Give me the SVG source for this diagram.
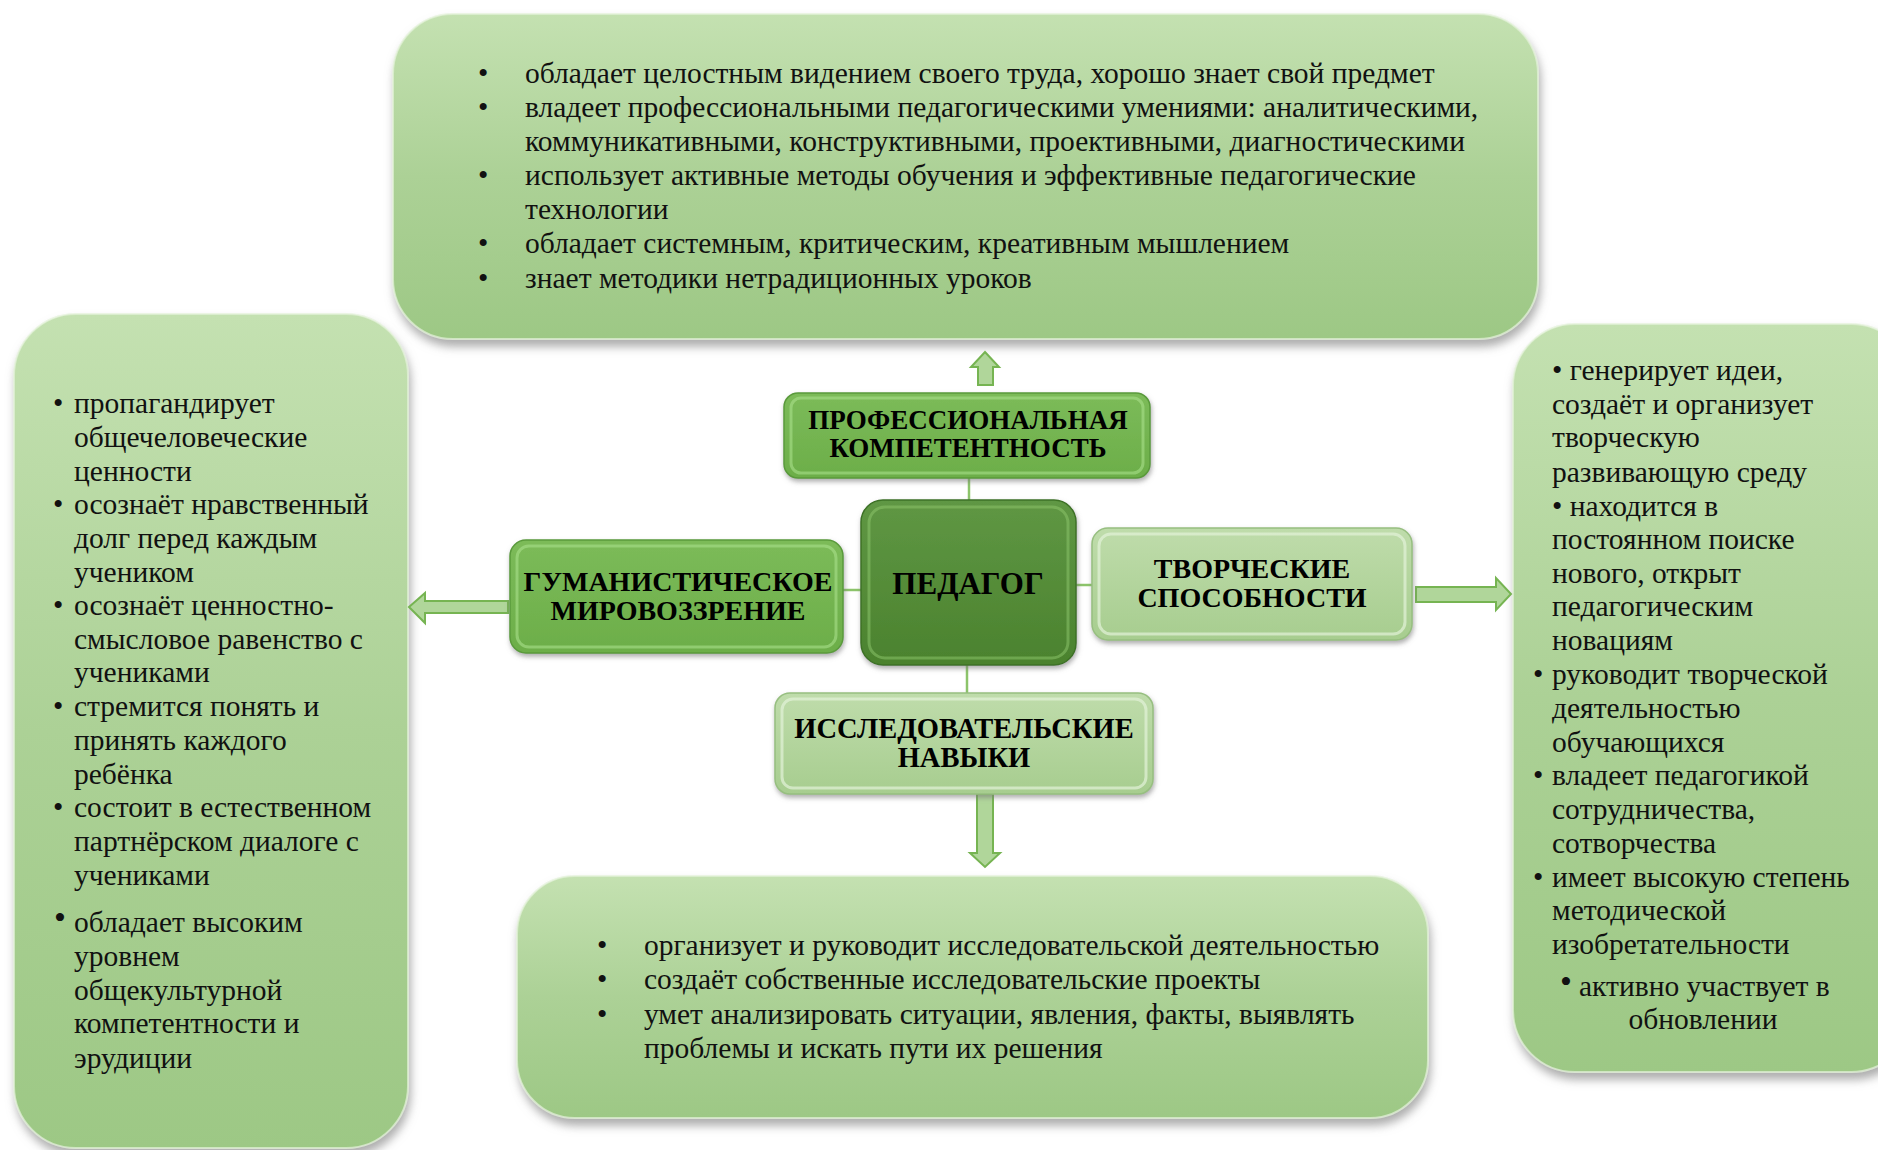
<svg xmlns="http://www.w3.org/2000/svg" width="1878" height="1150" viewBox="0 0 1878 1150">
<defs>
<linearGradient id="gBig" x1="0" y1="0" x2="0" y2="1">
<stop offset="0" stop-color="#c4e1b1"/>
<stop offset="0.5" stop-color="#acd196"/>
<stop offset="1" stop-color="#9dc885"/>
</linearGradient>
<linearGradient id="gDark" x1="0" y1="0" x2="0" y2="1">
<stop offset="0" stop-color="#5f9744"/>
<stop offset="1" stop-color="#4b822e"/>
</linearGradient>
<linearGradient id="gMid" x1="0" y1="0" x2="0" y2="1">
<stop offset="0" stop-color="#7cbb59"/>
<stop offset="1" stop-color="#6cae49"/>
</linearGradient>
<linearGradient id="gLight" x1="0" y1="0" x2="0" y2="1">
<stop offset="0" stop-color="#bfdcab"/>
<stop offset="1" stop-color="#a7cd8f"/>
</linearGradient>
<filter id="shBig" x="-10%" y="-10%" width="120%" height="125%">
<feGaussianBlur in="SourceAlpha" stdDeviation="5"/>
<feOffset dx="2" dy="7" result="b"/>
<feFlood flood-color="#8a8a8a" flood-opacity="0.7"/>
<feComposite in2="b" operator="in"/>
<feMerge><feMergeNode/><feMergeNode in="SourceGraphic"/></feMerge>
</filter>
<filter id="shNode" x="-10%" y="-10%" width="120%" height="130%">
<feGaussianBlur in="SourceAlpha" stdDeviation="2.5"/>
<feOffset dx="1" dy="3" result="b"/>
<feFlood flood-color="#777" flood-opacity="0.6"/>
<feComposite in2="b" operator="in"/>
<feMerge><feMergeNode/><feMergeNode in="SourceGraphic"/></feMerge>
</filter>
</defs>
<style>
.big{fill:url(#gBig);stroke:#e4f2da;stroke-width:2;stroke-opacity:0.7;filter:url(#shBig)}
.t{font-family:"Liberation Serif","Times New Roman",serif;font-size:29.5px;fill:#111}
.n{font-family:"Liberation Serif","Times New Roman",serif;font-size:28px;font-weight:bold;fill:#000;text-anchor:middle}
.dark{fill:url(#gDark);stroke:#3e7226;stroke-width:1.5;filter:url(#shNode)}
.mid{fill:url(#gMid);stroke:#5a9a3b;stroke-width:1.5;filter:url(#shNode)}
.light{fill:url(#gLight);stroke:#97bf80;stroke-width:1.5;filter:url(#shNode)}
.rimD{fill:none;stroke:#8bc36a;stroke-width:3;stroke-opacity:0.55}
.rimM{fill:none;stroke:#a8e08a;stroke-width:3;stroke-opacity:0.6}
.rimL{fill:none;stroke:#e3f2d8;stroke-width:3;stroke-opacity:0.7}
.con{stroke:#8cc46a;stroke-width:2.5;fill:none}
.arr{fill:#b0d69a;stroke:#76b452;stroke-width:2}
</style>

<g id="box-top">
<rect class="big" x="393" y="14" width="1145" height="325" rx="60"/>
<g class="t">
<text x="478" y="83">•</text><text x="525" y="83">обладает целостным видением своего труда, хорошо знает свой предмет</text>
<text x="478" y="117">•</text><text x="525" y="117">владеет профессиональными педагогическими умениями: аналитическими,</text>
<text x="525" y="151">коммуникативными, конструктивными, проективными, диагностическими</text>
<text x="478" y="185">•</text><text x="525" y="185">использует активные методы обучения и эффективные педагогические</text>
<text x="525" y="219">технологии</text>
<text x="478" y="253">•</text><text x="525" y="253">обладает системным, критическим, креативным мышлением</text>
<text x="478" y="288">•</text><text x="525" y="288">знает методики нетрадиционных уроков</text>
</g>
</g>

<g id="box-left">
<rect class="big" x="14" y="314" width="394" height="834" rx="62"/>
<g class="t">
<text x="53" y="413">•</text><text x="74" y="413">пропагандирует</text>
<text x="74" y="447">общечеловеческие</text>
<text x="74" y="481">ценности</text>
<text x="53" y="514">•</text><text x="74" y="514">осознаёт нравственный</text>
<text x="74" y="548">долг перед каждым</text>
<text x="74" y="582">учеником</text>
<text x="53" y="615">•</text><text x="74" y="615">осознаёт ценностно-</text>
<text x="74" y="649">смысловое равенство с</text>
<text x="74" y="682">учениками</text>
<text x="53" y="716">•</text><text x="74" y="716">стремится понять и</text>
<text x="74" y="750">принять каждого</text>
<text x="74" y="784">ребёнка</text>
<text x="53" y="817">•</text><text x="74" y="817">состоит в естественном</text>
<text x="74" y="851">партнёрском диалоге с</text>
<text x="74" y="885">учениками</text>
<text x="54" y="929" style="font-size:34px">•</text><text x="74" y="932">обладает высоким</text>
<text x="74" y="966">уровнем</text>
<text x="74" y="1000">общекультурной</text>
<text x="74" y="1033">компетентности и</text>
<text x="74" y="1068">эрудиции</text>
</g>
</g>

<g id="box-right">
<rect class="big" x="1513" y="324" width="400" height="748" rx="62"/>
<g class="t">
<text x="1552" y="380">• генерирует идеи,</text>
<text x="1552" y="414">создаёт и организует</text>
<text x="1552" y="447">творческую</text>
<text x="1552" y="482">развивающую среду</text>
<text x="1552" y="516">• находится в</text>
<text x="1552" y="549">постоянном поиске</text>
<text x="1552" y="583">нового, открыт</text>
<text x="1552" y="616">педагогическим</text>
<text x="1552" y="650">новациям</text>
<text x="1533" y="684">•</text><text x="1552" y="684">руководит творческой</text>
<text x="1552" y="718">деятельностью</text>
<text x="1552" y="752">обучающихся</text>
<text x="1533" y="785">•</text><text x="1552" y="785">владеет педагогикой</text>
<text x="1552" y="819">сотрудничества,</text>
<text x="1552" y="853">сотворчества</text>
<text x="1533" y="887">•</text><text x="1552" y="887">имеет высокую степень</text>
<text x="1552" y="920">методической</text>
<text x="1552" y="954">изобретательности</text>
<text x="1560" y="993" style="font-size:34px">•</text><text x="1579" y="996">активно участвует в</text>
<text x="1703" y="1029" text-anchor="middle">обновлении</text>
</g>
</g>

<g id="box-bottom">
<rect class="big" x="517" y="876" width="911" height="242" rx="58"/>
<g class="t">
<text x="597" y="955">•</text><text x="644" y="955">организует и руководит исследовательской деятельностью</text>
<text x="597" y="989">•</text><text x="644" y="989">создаёт собственные исследовательские проекты</text>
<text x="597" y="1024">•</text><text x="644" y="1024">умет анализировать ситуации, явления, факты, выявлять</text>
<text x="644" y="1058">проблемы и искать пути их решения</text>
</g>
</g>

<g id="connectors">
<line class="con" x1="969" y1="478" x2="969" y2="501"/>
<line class="con" x1="967" y1="664" x2="967" y2="694"/>
<line class="con" x1="843" y1="590" x2="862" y2="590"/>
<line class="con" x1="1075" y1="585" x2="1092" y2="585"/>
<polygon class="arr" points="985,352 999,367 993,367 993,385 978,385 978,367 971,367"/>
<polygon class="arr" points="977,794 993,794 993,853 1000,853 985,867 970,853 977,853"/>
<polygon class="arr" points="409,607 425,593 425,601 508,601 508,613 425,613 425,623"/>
<polygon class="arr" points="1416,587 1496,587 1496,578 1511,594 1496,610 1496,602 1416,602"/>
</g>

<g id="node-prof">
<rect class="mid" x="784" y="393" width="366" height="85" rx="14"/>
<rect class="rimM" x="791" y="398" width="352" height="75" rx="10"/>
<text class="n" x="968" y="429" style="font-size:27px">ПРОФЕССИОНАЛЬНАЯ</text>
<text class="n" x="968" y="457" style="font-size:27px">КОМПЕТЕНТНОСТЬ</text>
</g>

<g id="node-gum">
<rect class="mid" x="510" y="540" width="333" height="113" rx="16"/>
<rect class="rimM" x="517" y="546" width="319" height="101" rx="12"/>
<text class="n" x="678" y="591">ГУМАНИСТИЧЕСКОЕ</text>
<text class="n" x="678" y="620">МИРОВОЗЗРЕНИЕ</text>
</g>

<g id="node-ped">
<rect class="dark" x="861" y="500" width="215" height="165" rx="22"/>
<rect class="rimD" x="869" y="507" width="199" height="151" rx="16"/>
<text class="n" x="968" y="594" style="font-size:31px">ПЕДАГОГ</text>
</g>

<g id="node-tvor">
<rect class="light" x="1092" y="528" width="320" height="112" rx="16"/>
<rect class="rimL" x="1099" y="534" width="306" height="100" rx="12"/>
<text class="n" x="1252" y="578">ТВОРЧЕСКИЕ</text>
<text class="n" x="1252" y="607">СПОСОБНОСТИ</text>
</g>

<g id="node-issl">
<rect class="light" x="775" y="693" width="378" height="101" rx="15"/>
<rect class="rimL" x="782" y="699" width="364" height="89" rx="11"/>
<text class="n" x="964" y="738" style="font-size:28.5px">ИССЛЕДОВАТЕЛЬСКИЕ</text>
<text class="n" x="964" y="767" style="font-size:28.5px">НАВЫКИ</text>
</g>
</svg>
